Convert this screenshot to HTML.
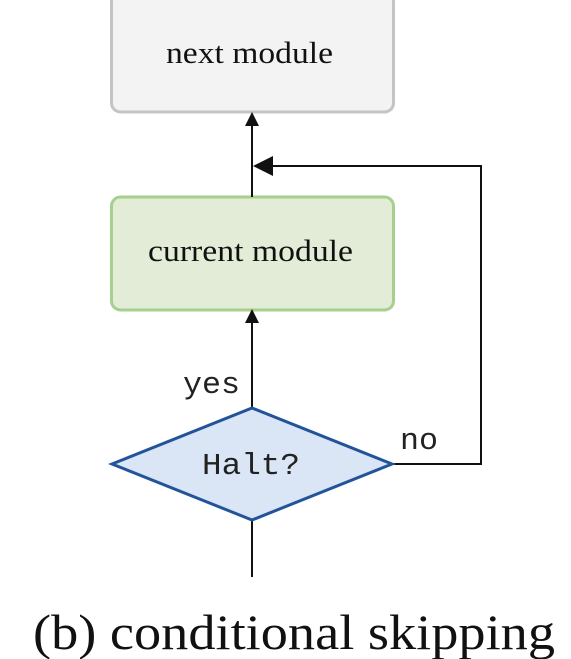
<!DOCTYPE html>
<html><head><meta charset="utf-8"><style>html,body{margin:0;padding:0;background:#fff}svg{display:block}</style></head>
<body>
<svg width="571" height="659" viewBox="0 0 571 659" xmlns="http://www.w3.org/2000/svg">
<rect x="111.5" y="-8" width="282" height="120" rx="9" fill="#f4f3f4" stroke="#c4c4c4" stroke-width="3"/>
<text x="166" y="63" font-family="Liberation Serif, serif" font-size="31" fill="#111" textLength="167" lengthAdjust="spacingAndGlyphs">next module</text>
<rect x="111.5" y="197" width="282" height="113" rx="9" fill="#e2ecd6" stroke="#a7cf8d" stroke-width="3"/>
<text x="148" y="261" font-family="Liberation Serif, serif" font-size="31" fill="#111" textLength="205" lengthAdjust="spacingAndGlyphs">current module</text>
<g stroke="#111" stroke-width="2" fill="none">
<line x1="252" y1="197" x2="252" y2="122"/>
<polyline points="393,464 481,464 481,166 270,166"/>
<line x1="252" y1="407" x2="252" y2="320"/>
<line x1="252" y1="521" x2="252" y2="577"/>
</g>
<polygon points="252,112 245,126 259,126" fill="#111"/>
<polygon points="253,166 273,156 273,176" fill="#111"/>
<polygon points="252,309 245,323 259,323" fill="#111"/>
<polygon points="252,408 392,464 252,520 112,464" fill="#dae6f5" stroke="#23549a" stroke-width="3"/>
<text x="202" y="474" font-family="Liberation Mono, monospace" font-size="31" fill="#222" textLength="98" lengthAdjust="spacingAndGlyphs">Halt?</text>
<text x="183" y="393" font-family="Liberation Mono, monospace" font-size="31" fill="#222" textLength="57" lengthAdjust="spacingAndGlyphs">yes</text>
<text x="400" y="449" font-family="Liberation Mono, monospace" font-size="31" fill="#222" textLength="38" lengthAdjust="spacingAndGlyphs">no</text>
<text x="33" y="649" font-family="Liberation Serif, serif" font-size="50" fill="#111" textLength="522" lengthAdjust="spacingAndGlyphs">(b) conditional skipping</text>
</svg>
</body></html>
